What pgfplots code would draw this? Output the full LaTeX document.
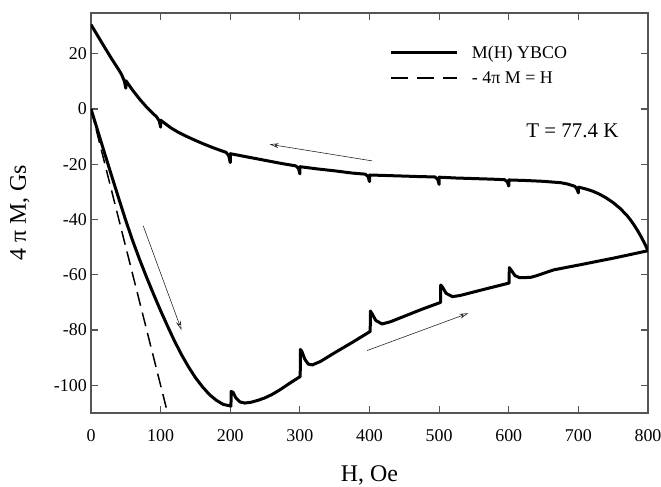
\documentclass[border=0pt]{standalone}
\usepackage{fontspec}
\setmainfont{Liberation Serif}
\usepackage{pgfplots}
\pgfplotsset{compat=1.18}
\usetikzlibrary{arrows.meta}
\definecolor{axgray}{RGB}{85,85,85}
\begin{document}
\begin{tikzpicture}
\begin{axis}[
 at={(0,0)}, anchor=south west,
 scale only axis, width=557bp, height=400bp,
 xmin=0, xmax=800, ymin=-110, ymax=34.7,
 axis line style={axgray, line width=1.2bp},
 tick style={axgray, line width=1.2bp},
 tick align=inside, major tick length=7bp,
 xtick={0,100,...,800}, xticklabels={0,100,200,300,400,500,600,700,800},
 ytick={-100,-80,...,20}, yticklabels={-100,-80,-60,-40,-20,0,20},
 ticklabel style={font=\fontsize{18}{21}\selectfont},
 xticklabel style={yshift=-13bp},
 yticklabel style={inner sep=1bp, xshift=-3bp},
 xlabel={H, Oe}, ylabel={4 π M, Gs},
 label style={font=\fontsize{24}{28}\selectfont},
 xlabel style={at={(axis description cs:0.5,-0.1717)}, anchor=base},
 ylabel style={at={(axis description cs:-0.128,0.5)}, anchor=center},
 legend style={at={(axis cs:429,23.7)}, anchor=north west, draw=none, fill=none,
   font=\fontsize{18}{21}\selectfont, row sep=8bp, inner sep=0pt,
   /tikz/every odd column/.append style={column sep=11bp}},
 legend cell align=left,
 legend image code/.code={\draw[#1] (0bp,0bp) -- (66bp,0bp);},
]
\addplot[black, line width=3bp, line join=round] coordinates {
(0,0)(10,-8.2)(20,-16.4)(30,-24.5)(40,-32.5)(50,-40.4)(60,-47.8)(70,-54.6)
(80,-61.0)(90,-67.1)(100,-73.0)(110,-78.6)(120,-84.0)(130,-88.9)(140,-93.3)
(150,-97.2)(160,-100.5)(170,-103.3)(180,-105.4)(190,-106.9)(201,-107.5)
(201.3,-102.2)(204,-102.5)(208,-104.5)(214,-106)(221,-106.4)(230,-106.1)
(240,-105.4)(250,-104.5)(260,-103.3)(272,-101.5)(285,-99.3)(300.5,-96.8)(300.7,-87)(303,-87.8)
(307,-90.5)(312,-92.3)(318,-92.6)(330,-91.3)(350,-88.2)(375,-84.5)
(401,-80.5)(401.3,-73.1)(404,-74.2)(409,-76.5)(418,-77.8)(430,-77)
(450,-75)(475,-72.5)(502,-70)(502.3,-63.7)(505,-64.5)(510,-66.7)
(519,-67.9)(530,-67.5)(550,-66.2)(575,-64.6)(600.5,-63)(600.8,-57.4)
(604,-58.5)(609,-60.3)(615,-61)(625,-61)(632,-60.9)(639,-60.4)
(665,-58.2)(700,-56.5)(750,-54)(800,-51.3)
};
\addlegendentry{M(H) YBCO}
\addlegendimage{black, line width=1.5bp, dash pattern=on 17bp off 9bp}
\addlegendentry{- 4π M = H}
\addplot[black, line width=1.5bp, dash pattern=on 14bp off 7bp, forget plot] coordinates {(0,0)(110,-110)};
\addplot[black, line width=3bp, line join=round, forget plot] coordinates {
(800,-51.3)(798,-50.2)(795,-48.6)(790,-46.2)(785,-44.0)(780,-42.0)(775,-40.2)
(770,-38.6)(760,-36.0)(750,-33.9)(740,-32.2)(730,-30.8)(720,-29.7)(710,-28.9)
(700.2,-28.3)(700,-30.4)(698,-29)(695,-28)(685,-27.2)(675,-26.7)(650,-26.2)(625,-25.9)
(600.2,-25.7)(600,-27.9)(598,-26.4)(594,-25.6)(575,-25.4)(550,-25.2)
(525,-25)(500.2,-24.7)(500,-27.3)(498,-25.5)(494,-24.6)(475,-24.5)
(450,-24.3)(425,-24.1)(400.2,-23.9)(400,-26.3)(398,-24.5)(394,-23.6)
(375,-23.2)(350,-22.4)(325,-21.7)(300.2,-20.9)(300,-23.5)(298,-21.5)
(294,-20.6)(275,-19.8)(250,-18.6)(225,-17.4)(200.2,-16.2)(200,-19.4)
(198,-17)(194,-15.7)(187,-15.1)(175,-14.0)(162,-12.7)(150,-11.4)(137,-9.9)(125,-8.4)(115,-6.9)
(108,-5.6)(100.2,-4.1)(100,-6.6)(98,-4.3)(94,-2.8)(90,-1.9)(80,0.6)(70,3.5)(60,6.7)
(50.2,10.2)(50,7.5)(48,10.0)(44,12.4)(40,14.1)(30,18.0)(20,22.1)(10,26.3)
(5,28.4)(0,30.5)
};
\addplot[black!85, line width=0.6bp, -{Stealth[open,length=9bp,width=5bp]}, forget plot]
  coordinates {(75,-42.3)(130,-80)};
\addplot[black!85, line width=0.6bp, -{Stealth[open,length=9bp,width=5bp]}, forget plot]
  coordinates {(403.8,-18.8)(256.6,-12.8)};
\addplot[black!85, line width=0.6bp, -{Stealth[open,length=9bp,width=5bp]}, forget plot]
  coordinates {(396.6,-87.4)(542,-73.9)};
\node[anchor=base, font=\fontsize{21}{25}\selectfont] at (axis cs:691.4,-10.5) {T = 77.4 K};
\end{axis}
\pgfresetboundingbox
\path[use as bounding box] (-91bp,-74bp) rectangle (570bp,413bp);
\end{tikzpicture}
\end{document}
